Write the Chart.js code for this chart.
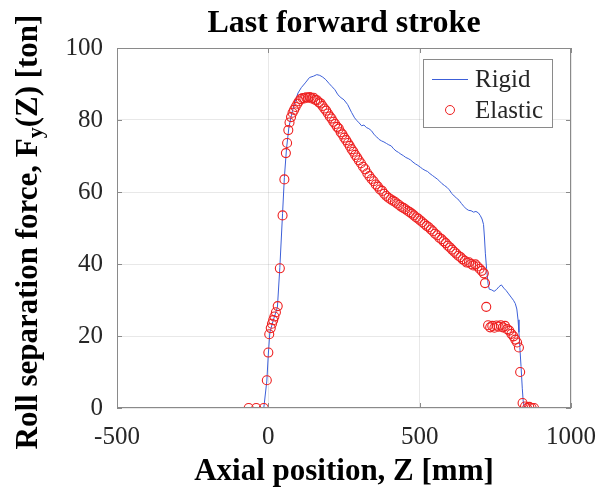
<!DOCTYPE html>
<html>
<head>
<meta charset="utf-8">
<script src="https://cdn.jsdelivr.net/npm/chart.js@4.4.1/dist/chart.umd.min.js"></script>
<style>
  html, body { margin: 0; padding: 0; background: #fff; }
  #wrap { width: 598px; height: 490px; }
</style>
</head>
<body>
<div id="wrap"><canvas id="strokeChart" width="598" height="490"></canvas></div>
<script>
// Axis ticks
const xTicks = [-500, 0, 500, 1000];
const yTicks = [0, 20, 40, 60, 80, 100];

// Rigid roll model (line)
const zRigid = [-65, -15, -5, 0, 5, 15, 30, 38, 47, 53, 60, 68, 78, 88, 98, 109, 122, 136, 150, 160, 170, 180, 190, 200, 210, 220, 230, 240, 250, 262,
  275, 285, 293, 300, 308, 316, 324, 332, 341, 350, 358, 366, 374, 382, 390, 398, 406, 414, 422, 430, 438, 446, 454, 462, 470, 478, 486, 494,
  502, 510, 518, 526, 534, 542, 550, 558, 566, 574, 582, 590, 598, 606, 614, 622, 630, 638, 646, 654, 662, 670, 678, 686, 694, 700, 706, 711,
  714, 717, 721, 726, 730, 738, 746, 754, 762, 770, 778, 786, 794, 802, 810, 816, 821, 825, 828, 831, 835, 839, 842, 846, 880];
const fRigid = [0, 0, 7.5, 15, 21, 24, 28, 39, 54, 64, 72, 78, 82, 85, 87.5, 89, 90.3, 91.8, 92.2, 92.6, 92.4, 91.9, 91.2, 90.2, 89.3, 88.4, 87, 86.2, 85.6, 84.3,
  82.1, 80.6, 79.8, 79.2, 78.4, 78.6, 77.9, 77.6, 77.0, 75.9, 75.3, 74.6, 74.2, 73.9, 73.5, 73.1, 72.8, 72.0, 71.4, 71.0, 70.5, 70.1, 69.6, 69.3, 68.9, 68.3, 67.8, 67.4,
  66.9, 66.4, 66.0, 65.7, 65.1, 64.6, 64.1, 63.6, 63.0, 62.3, 61.8, 61.3, 60.6, 59.6, 58.9, 58.3, 57.7, 56.8, 56.0, 55.3, 54.9, 54.8, 54.4, 54.6, 54.2, 53.5, 52.5, 51.0,
  47.5, 43.0, 38.8, 34.5, 33.0, 32.8, 32.4, 32.9, 33.7, 34.2, 33.3, 32.6, 31.7, 30.8, 29.9, 29.0, 27.5, 24.5, 21.0, 16.8, 11.5, 5.5, 2.0, 0, 0];

// Elastic roll model (circles)
const zElastic = [-65, -40, -15, -5, 0, 3, 8, 12, 16, 20, 25, 31, 38, 47, 53, 58, 62, 66, 70, 75, 80, 85, 90, 96, 101, 107, 113, 119, 125, 131, 137, 143, 149,
  155, 161, 167, 173, 179, 185, 191, 197, 203, 209, 215, 221, 227, 233, 239, 245, 251, 257, 263, 269, 275, 281, 287, 293, 299, 306, 313, 320, 327, 334,
  341, 348, 355, 362, 369, 376, 383, 390, 397, 404, 411, 418, 425, 432, 439, 446, 453, 460, 467, 474, 481, 488, 495, 502, 509, 516, 523, 530, 537, 544,
  551, 558, 565, 572, 579, 586, 593, 600, 607, 614, 621, 628, 635, 642, 649, 656, 663, 670, 677, 684, 691, 698, 705, 712, 716, 720, 726, 733, 740, 747,
  754, 761, 768, 775, 782, 789, 796, 803, 810, 816, 822, 828, 832, 840, 848, 855, 862, 870, 878];
const fElastic = [0, 0, 0, 7.7, 15.4, 20.5, 22.2, 23.4, 24.4, 25.4, 26.6, 28.3, 38.8, 53.5, 63.5, 70.8, 73.6, 77.2, 79.3, 80.8, 82.0, 82.8, 83.6, 84.5, 85.2, 85.8, 86.1, 86.0, 86.3, 86.2, 86.4, 86.0, 86.2,
  85.6, 85.5, 84.9, 84.6, 83.9, 83.2, 82.6, 81.8, 81.0, 80.4, 79.5, 78.9, 78.1, 77.6, 76.6, 76.0, 75.1, 74.4, 73.6, 72.8, 71.9, 71.2, 70.3, 69.6, 68.8, 68.0, 67.0, 66.3, 65.2, 64.4,
  63.6, 63.0, 62.1, 61.5, 60.7, 60.3, 59.5, 58.9, 58.4, 58.0, 57.6, 57.3, 56.8, 56.4, 55.9, 55.6, 55.2, 54.8, 54.4, 54.0, 53.5, 53.0, 52.6, 52.1, 51.6, 51.1, 50.6, 50.2, 49.6, 49.1,
  48.4, 48.0, 47.3, 46.9, 46.3, 45.8, 45.1, 44.6, 44.0, 43.4, 42.9, 42.3, 41.9, 41.3, 40.9, 40.4, 40.5, 40.0, 39.6, 39.9, 39.3, 38.7, 38.1, 37.4, 34.7, 28.1, 23.0, 22.4, 22.8, 22.3,
  22.9, 22.6, 23.0, 22.4, 22.8, 21.9, 21.5, 20.6, 19.9, 19.0, 18.2, 16.8, 10.0, 1.4, 0.4, 0.0, 0.3, 0.0, 0.0];

const seriesNames = ['Rigid', 'Elastic'];
const chartTitle = 'Last forward stroke';
const serif = "'Liberation Serif', 'Times New Roman', serif";
const inkColor = '#262626';

function toPoints(xs, ys) {
  return xs.map((x, i) => ({ x: x, y: ys[i] }));
}

// Box, inward ticks, title, y title with subscript, legend
const matlabAxes = {
  id: 'matlabAxes',
  afterDatasetsDraw(chart) {
    const { ctx, chartArea: a, scales } = chart;
    ctx.save();
    ctx.strokeStyle = '#8a8a8a';
    ctx.lineWidth = 1;
    ctx.strokeRect(a.left + 0.5, a.top + 0.5, a.right - a.left - 1, a.bottom - a.top - 1);
    ctx.beginPath();
    xTicks.forEach(v => {
      const px = Math.round(scales.x.getPixelForValue(v)) + 0.5;
      ctx.moveTo(px, a.bottom); ctx.lineTo(px, a.bottom - 5);
      ctx.moveTo(px, a.top); ctx.lineTo(px, a.top + 5);
    });
    yTicks.forEach(v => {
      const py = Math.round(scales.y.getPixelForValue(v)) + 0.5;
      ctx.moveTo(a.left, py); ctx.lineTo(a.left + 5, py);
      ctx.moveTo(a.right, py); ctx.lineTo(a.right - 5, py);
    });
    ctx.stroke();

    // title, centred over the plot box
    ctx.fillStyle = '#000';
    ctx.font = 'bold 32px ' + serif;
    ctx.textAlign = 'center';
    ctx.textBaseline = 'middle';
    ctx.fillText(chartTitle, (a.left + a.right) / 2, 24);

    // legend
    const lx = 423, ly = 59, lw = 129, lh = 68;
    ctx.fillStyle = '#fff';
    ctx.fillRect(lx, ly, lw, lh);
    ctx.strokeStyle = '#8a8a8a';
    ctx.strokeRect(lx + 0.5, ly + 0.5, lw, lh);
    const ds = chart.data.datasets;
    ctx.strokeStyle = ds[0].borderColor;
    ctx.beginPath();
    ctx.moveTo(432, 79.5); ctx.lineTo(468, 79.5);
    ctx.stroke();
    ctx.strokeStyle = ds[1].pointBorderColor;
    ctx.beginPath();
    ctx.arc(450, 110, 4.5, 0, Math.PI * 2);
    ctx.stroke();
    ctx.fillStyle = inkColor;
    ctx.font = '25px ' + serif;
    ctx.textAlign = 'left';
    ctx.fillText(ds[0].label, 475, 80);
    ctx.fillText(ds[1].label, 475, 111);

    // y title: Roll separation force, F_y(Z) [ton]
    const big = 'bold 31px ' + serif, small = 'bold 22px ' + serif;
    const parts = [['Roll separation force, F', big, 0], ['y', small, 7], ['(Z) [ton]', big, 0]];
    let total = 0;
    parts.forEach(p => { ctx.font = p[1]; total += ctx.measureText(p[0]).width; });
    ctx.fillStyle = '#000';
    ctx.translate(29, 232);
    ctx.rotate(-Math.PI / 2);
    let cx = -total / 2;
    parts.forEach(p => {
      ctx.font = p[1];
      ctx.fillText(p[0], cx, p[2]);
      cx += ctx.measureText(p[0]).width;
    });
    ctx.restore();
  }
};

function initStrokeChart() {
  const ctx = document.getElementById('strokeChart').getContext('2d');
  new Chart(ctx, {
    type: 'scatter',
    data: {
      datasets: [{
        label: seriesNames[0],
        data: toPoints(zRigid, fRigid),
        showLine: true,
        borderColor: '#3c5fd8',
        borderWidth: 1,
        pointRadius: 0,
        tension: 0,
        order: 1
      }, {
        label: seriesNames[1],
        data: toPoints(zElastic, fElastic),
        showLine: false,
        pointStyle: 'circle',
        pointRadius: 4.5,
        pointBorderWidth: 1.1,
        pointBorderColor: '#ee2020',
        pointBackgroundColor: 'rgba(0,0,0,0)',
        order: 0
      }]
    },
    options: {
      responsive: false,
      animation: false,
      layout: { padding: { left: 0, right: 27, top: 48, bottom: 0 } },
      plugins: {
        legend: { display: false },
        tooltip: { enabled: false },
        title: { display: false }
      },
      scales: {
        x: {
          type: 'linear',
          min: -500,
          max: 1000,
          afterBuildTicks: s => { s.ticks = xTicks.map(v => ({ value: v })); },
          afterFit: s => { s.height = 82; s.paddingLeft = 0; s.paddingRight = 0; },
          ticks: {
            color: inkColor,
            font: { family: serif, size: 25 },
            padding: 14,
            maxRotation: 0,
            callback: v => String(v)
          },
          grid: { color: 'rgba(0,0,0,0.09)', drawTicks: false },
          border: { display: false },
          title: {
            display: true,
            text: 'Axial position, Z [mm]',
            color: '#000',
            font: { family: serif, size: 31, weight: 'bold', lineHeight: 1.15 },
            padding: { top: 0, bottom: 0 }
          }
        },
        y: {
          type: 'linear',
          min: 0,
          max: 100,
          afterBuildTicks: s => { s.ticks = yTicks.map(v => ({ value: v })); },
          afterFit: s => { s.width = 117; s.paddingTop = 0; s.paddingBottom = 0; },
          ticks: { color: inkColor, font: { family: serif, size: 25 }, padding: 14, callback: v => String(v) },
          grid: { color: 'rgba(0,0,0,0.09)', drawTicks: false },
          border: { display: false }
        }
      }
    },
    plugins: [matlabAxes]
  });
}

// make sure the serif faces are ready before the canvas draws text
document.addEventListener('DOMContentLoaded', () => {
  Promise.all([
    document.fonts.load("25px 'Liberation Serif'"),
    document.fonts.load("bold 31px 'Liberation Serif'")
  ]).then(initStrokeChart, initStrokeChart);
});
</script>
</body>
</html>
